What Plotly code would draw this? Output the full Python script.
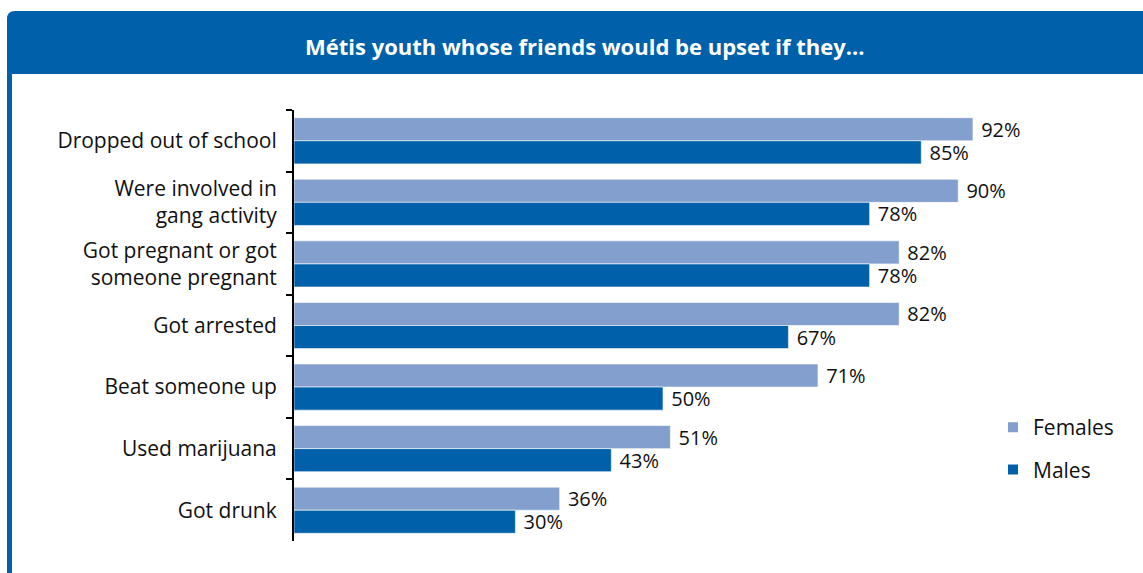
import plotly.graph_objects as go

W, H = 1143, 573

categories = [
    "Dropped out of school",
    "Were involved in<br>gang activity",
    "Got pregnant or got<br>someone pregnant",
    "Got arrested",
    "Beat someone up",
    "Used marijuana",
    "Got drunk",
]
females = [92, 90, 82, 82, 71, 51, 36]
males = [85, 78, 78, 67, 50, 43, 30]

title_text = "Métis youth whose friends would be upset if they..."

FEMALE_COLOR = "#829FCD"
MALE_COLOR = "#0061AA"
FONT = "Open Sans"
TXT = "#111111"


def px(x):
    return x / W


def py(y):
    return 1 - y / H


fig = go.Figure()
for name, vals, color in [("Females", females, FEMALE_COLOR), ("Males", males, MALE_COLOR)]:
    fig.add_trace(go.Bar(
        y=categories, x=vals, name=name, orientation="h", legendgroup=name,
        marker=dict(color=color, line=dict(color="white", width=0.6)),
        text=[f"{v}%" for v in vals], textposition="outside",
        texttemplate=" %{text}", cliponaxis=False, constraintext="none",
        textfont=dict(size=20, color=TXT, family=FONT),
    ))

# header bar with rounded top-left corner, plus left border
r = 8
x0, x1, y0, y1 = 7, W, 11, 74
header_path = (
    f"M {px(x0)},{py(y1)} L {px(x0)},{py(y0 + r)} "
    f"Q {px(x0)},{py(y0)} {px(x0 + r)},{py(y0)} "
    f"L {px(x1)},{py(y0)} L {px(x1)},{py(y1)} Z"
)
shapes = [
    dict(type="path", path=header_path, xref="paper", yref="paper",
         fillcolor=MALE_COLOR, line=dict(width=0), layer="below"),
    dict(type="rect", xref="paper", yref="paper",
         x0=px(7), x1=px(12), y0=0, y1=py(y1 - 1),
         fillcolor=MALE_COLOR, line=dict(width=0), layer="below"),
]

fig.update_layout(
    width=W, height=H,
    margin=dict(l=0, r=0, t=0, b=0),
    paper_bgcolor="white", plot_bgcolor="white",
    barmode="group", bargap=0.25, bargroupgap=0.0,
    font=dict(family=FONT, size=21, color=TXT),
    shapes=shapes,
    annotations=[dict(
        text=f"<b>{title_text}</b>", x=px(585), y=py(46),
        xref="paper", yref="paper", showarrow=False,
        font=dict(family=FONT, size=22, color="white"),
        xanchor="center", yanchor="middle",
    )],
    xaxis=dict(
        domain=[px(294), px(294 + 738)], range=[0, 100],
        showgrid=False, zeroline=False, showticklabels=False,
        showline=False,
    ),
    yaxis=dict(
        domain=[py(541), py(110)], autorange="reversed",
        showgrid=False, zeroline=False,
        showline=True, linecolor="black", linewidth=2,
        ticks="outside", tickson="boundaries", ticklen=6,
        tickcolor="black", tickwidth=2,
        ticklabelstandoff=11,
        tickfont=dict(family=FONT, size=21, color=TXT),
    ),
    legend=dict(
        x=px(993), y=py(407), xanchor="left", yanchor="top",
        font=dict(family=FONT, size=21, color=TXT),
        tracegroupgap=12, itemsizing="constant",
        bgcolor="rgba(0,0,0,0)",
    ),
    showlegend=True,
)

# drop the default page margin so the figure fills the window
fig.write_html(
    "out.html",
    config={"displayModeBar": False},
    post_script="document.body.style.margin='0';",
)
